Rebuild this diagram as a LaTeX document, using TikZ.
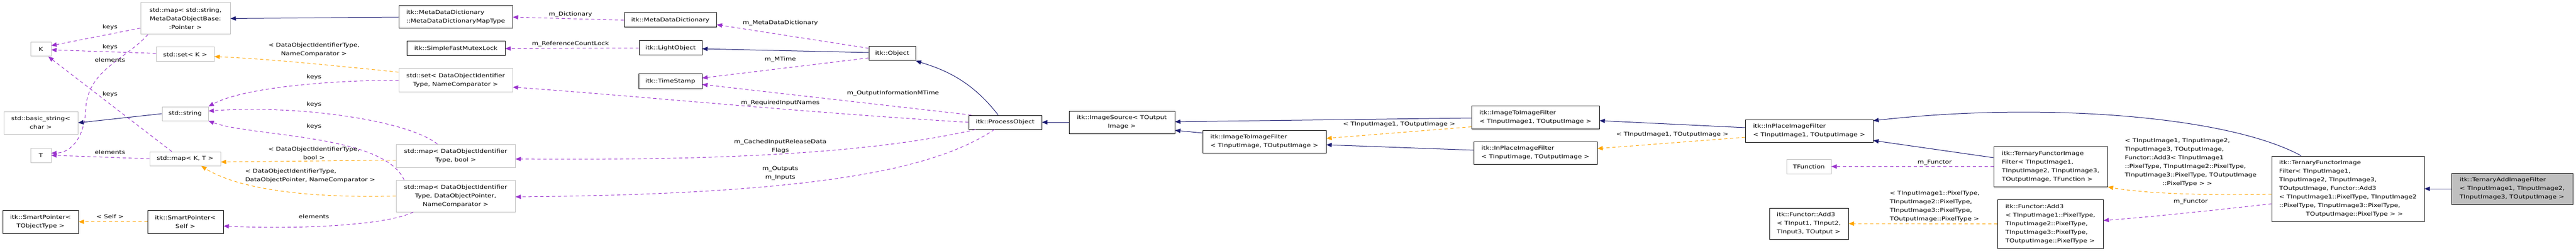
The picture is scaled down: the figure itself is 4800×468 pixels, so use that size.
\documentclass[tikz,border=0pt]{standalone}
\usepackage{fontspec}
\setmainfont{DejaVu Sans}[FakeStretch=1.22]
\usetikzlibrary{arrows.meta}
\definecolor{inhc}{HTML}{191970}
\definecolor{usec}{HTML}{9A32CD}
\definecolor{tplc}{HTML}{FFA500}
\definecolor{grayb}{HTML}{BFBFBF}
\begin{document}
\begin{tikzpicture}[x=1pt,y=-1pt,
  font=\fontsize{10}{16}\selectfont,
  box/.style={draw=black,line width=1pt,fill=white,inner sep=2pt,align=center},
  gbox/.style={box,draw=grayb},
  lbox/.style={box,align=left},
  lbl/.style={inner sep=0pt,align=center},
  inh/.style={draw=inhc,line width=1pt,-{Triangle[length=10pt,width=8pt]}},
  use/.style={draw=usec,line width=1pt,dashed,dash pattern=on 6pt off 5pt,-{Triangle[length=10pt,width=8pt]}},
  tpl/.style={draw=tplc,line width=1pt,dashed,dash pattern=on 6pt off 5pt,-{Triangle[length=10pt,width=8pt]}}]
\useasboundingbox (0,0) rectangle (4800,468);
% nodes
\node[gbox,minimum width=167,minimum height=59] (mapMeta) at (345.5,34.5) {std::map\textless{} std::string,\\MetaDataObjectBase:\\:Pointer \textgreater};
\node[gbox,minimum width=38,minimum height=26] (K) at (76,92) {K};
\node[gbox,minimum width=108,minimum height=27] (setK) at (345,101.5) {std::set\textless{} K \textgreater};
\node[gbox,minimum width=138,minimum height=42] (basic) at (76,229) {std::basic\_string\textless\\char \textgreater};
\node[gbox,minimum width=86,minimum height=26] (string) at (345,212) {std::string};
\node[gbox,minimum width=38,minimum height=27] (T) at (76,289.5) {T};
\node[gbox,minimum width=132,minimum height=26] (mapKT) at (345,296) {std::map\textless{} K, T \textgreater};
\node[box,minimum width=141,minimum height=43] (SPT) at (75.5,413.5) {itk::SmartPointer\textless\\TObjectType \textgreater};
\node[box,minimum width=141,minimum height=43] (SPSelf) at (345.5,413.5) {itk::SmartPointer\textless\\Self \textgreater};
\node[lbox,minimum width=212,minimum height=42] (MDDMap) at (849,32) {itk::MetaDataDictionary\\::MetaDataDictionaryMapType};
\node[box,minimum width=172,minimum height=27] (MDD) at (1249,37.5) {itk::MetaDataDictionary};
\node[box,minimum width=183,minimum height=27] (SFML) at (849.5,90.5) {itk::SimpleFastMutexLock};
\node[box,minimum width=117,minimum height=27] (Light) at (1249.5,89.5) {itk::LightObject};
\node[gbox,minimum width=212,minimum height=43] (setDOI) at (849,149.5) {std::set\textless{} DataObjectIdentifier\\Type, NameComparator \textgreater};
\node[box,minimum width=118,minimum height=27] (TS) at (1249,151.5) {itk::TimeStamp};
\node[gbox,minimum width=222,minimum height=43] (mapBool) at (849,290.5) {std::map\textless{} DataObjectIdentifier\\Type, bool \textgreater};
\node[gbox,minimum width=222,minimum height=59] (mapDOP) at (849,365.5) {std::map\textless{} DataObjectIdentifier\\Type, DataObjectPointer,\\NameComparator \textgreater};
\node[box,minimum width=87,minimum height=26] (Obj) at (1662.5,100) {itk::Object};
\node[box,minimum width=136,minimum height=26] (PO) at (1873,228) {itk::ProcessObject};
\node[box,minimum width=197,minimum height=42] (IS) at (2090.5,228) {itk::ImageSource\textless{} TOutput\\Image \textgreater};
\node[lbox,minimum width=230,minimum height=42] (ITIF) at (2356,264) {itk::ImageToImageFilter\\\textless{} TInputImage, TOutputImage \textgreater};
\node[lbox,minimum width=238,minimum height=43] (ITIFa) at (2861,218.5) {itk::ImageToImageFilter\\\textless{} TInputImage1, TOutputImage \textgreater};
\node[lbox,minimum width=230,minimum height=42] (IPIF) at (2861,285) {itk::InPlaceImageFilter\\\textless{} TInputImage, TOutputImage \textgreater};
\node[lbox,minimum width=238,minimum height=42] (IPIFa) at (3371,244) {itk::InPlaceImageFilter\\\textless{} TInputImage1, TOutputImage \textgreater};
\node[gbox,minimum width=83,minimum height=27] (TFn) at (3370.5,310.5) {TFunction};
\node[lbox,minimum width=212,minimum height=75] (TFIFt) at (3821,310.5) {itk::TernaryFunctorImage\\Filter\textless{} TInputImage1,\\ TInputImage2, TInputImage3,\\ TOutputImage, TFunction \textgreater};
\node[lbox,minimum width=147,minimum height=58] (Add3t) at (3370.5,417) {itk::Functor::Add3\\\textless{} TInput1, TInput2,\\ TInput3, TOutput \textgreater};
\node[lbox,minimum width=197,minimum height=91] (Add3i) at (3820.5,417.5) {itk::Functor::Add3\\\textless{} TInputImage1::PixelType,\\ TInputImage2::PixelType,\\ TInputImage3::PixelType,\\ TOutputImage::PixelType \textgreater};
\node[lbox,minimum width=284,minimum height=122] (TFIFi) at (4375,352) {itk::TernaryFunctorImage\\Filter\textless{} TInputImage1,\\ TInputImage2, TInputImage3,\\ TOutputImage, Functor::Add3\\\textless{} TInputImage1::PixelType, TInputImage2\\::PixelType, TInputImage3::PixelType,\\\hspace*{5em}TOutputImage::PixelType \textgreater{} \textgreater};
\node[lbox,fill=grayb,minimum width=226,minimum height=58] (TAdd) at (4681,352) {itk::TernaryAddImageFilter\\\textless{} TInputImage1, TInputImage2,\\ TInputImage3, TOutputImage \textgreater};
% edges
\draw[inh] (MDDMap.west) -- (mapMeta.east);
\draw[use] ([yshift=-18pt]mapMeta.west) -- ([yshift=7pt]K.east);
\draw[use] ([xshift=-70pt]mapMeta.south) .. controls (235,110) and (165,130) .. (160,200) .. controls (158,260) and (130,285) .. ([yshift=4pt]T.east);
\draw[use] ([yshift=2pt]setK.west) -- ([yshift=-1pt]K.east);
\draw[use] ([xshift=-25pt]mapKT.north) -- ([xshift=14pt]K.south);
\draw[use] (mapKT.west) -- (T.east);
\draw[inh] (string.west) -- (basic.east);
\draw[tpl] ([yshift=15pt]setDOI.west) .. controls (600,120) and (500,110) .. ([yshift=-4pt]setK.east);
\draw[use] (setDOI.west) .. controls (600,150) and (450,165) .. (string.north east);
\draw[use] ([xshift=-34pt]mapBool.north) .. controls (760,225) and (560,195) .. ([yshift=5pt]string.east);
\draw[use] ([xshift=-96pt]mapDOP.north) .. controls (715,250) and (470,255) .. (string.south east);
\draw[tpl] ([yshift=-8pt]mapBool.west) -- ([yshift=-6pt]mapKT.east);
\draw[tpl] (mapDOP.west) .. controls (560,370) and (440,350) .. ([xshift=30pt]mapKT.south);
\draw[tpl] (SPSelf.west) -- (SPT.east);
\draw[use] ([xshift=-79pt]mapDOP.south) .. controls (720,420) and (560,428) .. ([yshift=-8pt]SPSelf.east);
\draw[use] (MDD.west) -- (MDDMap.east);
\draw[use] ([yshift=10pt]Obj.west) -- ([yshift=-8.5pt]MDD.east);
\draw[use] (Light.west) -- (SFML.east);
\draw[inh] ([yshift=2pt]Obj.west) -- ([yshift=-1.5pt]Light.east);
\draw[use] ([yshift=-8pt]Obj.west) -- ([yshift=6pt]TS.east);
\draw[use] ([xshift=-63pt]PO.north) -- ([yshift=-6pt]TS.east);
\draw[use] (PO.west) .. controls (1500,210) and (1200,180) .. ([yshift=-13pt]setDOI.east);
\draw[use] ([xshift=-55pt]PO.south) .. controls (1650,280) and (1400,300) .. ([yshift=-6pt]mapBool.east);
\draw[use] ([xshift=-20pt]PO.south) .. controls (1750,310) and (1550,362) .. ([yshift=-1.5pt]mapDOP.east);
\draw[inh] ([xshift=-13pt]PO.north) .. controls (1810,150) and (1760,130) .. (Obj.south east);
\draw[inh] (IS.west) -- (PO.east);
\draw[inh] ([yshift=-1.5pt]ITIFa.west) -- ([yshift=1pt]IS.east);
\draw[inh] ([yshift=16pt]ITIF.west) -- ([yshift=-15pt]IS.east);
\draw[tpl] ([yshift=-18pt]ITIFa.west) -- ([yshift=6pt]ITIF.east);
\draw[inh] ([yshift=5pt]IPIF.west) -- ([yshift=-6pt]ITIF.east);
\draw[inh] ([yshift=6pt]IPIFa.west) -- ([yshift=-6.5pt]ITIFa.east);
\draw[tpl] ([yshift=-12pt]IPIFa.west) -- ([yshift=8pt]IPIF.east);
\draw[inh] ([xshift=-87pt]TFIFi.north) .. controls (4150,215) and (3800,190) .. ([yshift=19pt]IPIFa.east);
\draw[inh] ([yshift=16.5pt]TFIFt.west) -- ([yshift=-18pt]IPIFa.east);
\draw[use] (TFIFt.west) -- (TFn.east);
\draw[tpl] (Add3i.west) -- (Add3t.east);
\draw[tpl] ([yshift=-10pt]TFIFi.west) .. controls (4100,365) and (3990,360) .. (TFIFt.south east);
\draw[use] ([yshift=-28pt]TFIFi.west) .. controls (4100,395) and (4000,405) .. ([yshift=6.5pt]Add3i.east);
\draw[inh] (TAdd.west) -- (TFIFi.east);
% labels
\node[lbl] (l1) at (205,51) {keys};
\node[lbl] (l2) at (205,88) {keys};
\node[lbl] (l3) at (205,112) {elements};
\node[lbl] (l4) at (205,176) {keys};
\node[lbl] (l5) at (205,284) {elements};
\node[lbl] (l6) at (585,93) {\textless{} DataObjectIdentifierType,\\NameComparator \textgreater};
\node[lbl] (l7) at (585,144) {keys};
\node[lbl] (l8) at (585,195) {keys};
\node[lbl] (l9) at (585,236) {keys};
\node[lbl] (l10) at (585,286) {\textless{} DataObjectIdentifierType,\\bool \textgreater};
\node[lbl,align=left] (l11) at (578,328) {\textless{} DataObjectIdentifierType,\\DataObjectPointer, NameComparator \textgreater};
\node[lbl] (l12) at (205,404) {\textless{} Self \textgreater};
\node[lbl] (l13) at (585,404) {elements};
\node[lbl] (l14) at (1063,27) {m\_Dictionary};
\node[lbl] (l15) at (1063,82) {m\_ReferenceCountLock};
\node[lbl] (l16) at (1454,43) {m\_MetaDataDictionary};
\node[lbl] (l17) at (1454,111) {m\_MTime};
\node[lbl] (l18) at (1664,174) {m\_OutputInformationMTime};
\node[lbl] (l19) at (1454,192) {m\_RequiredInputNames};
\node[lbl] (l20) at (1454,273) {m\_CachedInputReleaseData\\Flags};
\node[lbl] (l21) at (1454,323) {m\_Outputs\\m\_Inputs};
\node[lbl] (l22) at (2607,232) {\textless{} TInputImage1, TOutputImage \textgreater};
\node[lbl] (l23) at (3116,251) {\textless{} TInputImage1, TOutputImage \textgreater};
\node[lbl] (l24) at (3605,303) {m\_Functor};
\node[lbl,align=left] (l25) at (3605,385) {\textless{} TInputImage1::PixelType,\\TInputImage2::PixelType,\\TInputImage3::PixelType,\\TOutputImage::PixelType \textgreater};
\node[lbl,align=left] (l26) at (4082,303) {\textless{} TInputImage1, TInputImage2,\\TInputImage3, TOutputImage,\\Functor::Add3\textless{} TInputImage1\\::PixelType, TInputImage2::PixelType,\\TInputImage3::PixelType, TOutputImage\\\hspace*{7em}::PixelType \textgreater{} \textgreater};
\node[lbl] (l27) at (4082,376) {m\_Functor};
\end{tikzpicture}
\end{document}
